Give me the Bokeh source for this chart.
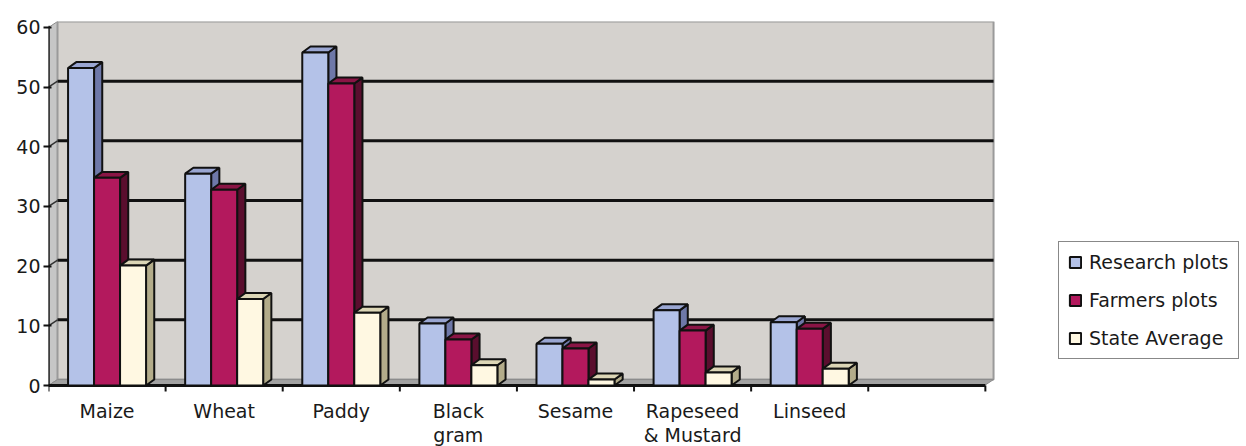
from bokeh.plotting import figure
from bokeh.models import Range1d, FixedTicker, Legend, LegendItem, ColumnDataSource
from bokeh.core.properties import value
from bokeh.embed import file_html
from bokeh.resources import INLINE

# ---- data ----
categories = ["Maize", "Wheat", "Paddy", "Black gram", "Sesame", "Rapeseed & Mustard", "Linseed"]
tick_labels = ["Maize", "Wheat", "Paddy", "Black\ngram", "Sesame", "Rapeseed\n& Mustard", "Linseed"]
series_names = ["Research plots", "Farmers plots", "State Average"]
research = [53.2, 35.5, 55.8, 10.4, 7.0, 12.6, 10.6]
farmers = [34.8, 32.8, 50.6, 7.7, 6.2, 9.2, 9.5]
state = [20.1, 14.5, 12.2, 3.4, 1.0, 2.2, 2.8]
y_ticks = [0, 10, 20, 30, 40, 50, 60]
n_slots = 8

# ---- styling / geometry ----
FONT = "DejaVu Sans"
FS = "19px"
TXT = "#1a1a1a"
front_cols = ["#B4C2E8", "#B3195D", "#FFF8E2"]
side_cols = ["#6E78A8", "#5A0E2E", "#B3AC8A"]
top_cols = ["#9AA6D2", "#8A1545", "#DCD6B6"]
bar_w = 0.222
dx, dy = 0.07, 1.0          # bar depth offsets
wdx, wdy = 0.077, 1.0       # wall depth offsets
wall_end = n_slots + 0.07
x_view_end = 10.23          # frame extends under the legend
y_top = 61.0
y_view_bottom = -10.22      # frame extends under the category labels
tick_len = 1.0              # outward tick length in value units
label_y = -2.5              # top of category labels in value units

p = figure(width=1246, height=446, output_backend="svg", toolbar_location=None,
           x_range=Range1d(0, x_view_end), y_range=Range1d(y_view_bottom, y_top),
           min_border_left=48, min_border_right=0, min_border_top=21, min_border_bottom=0)
p.background_fill_color = "white"
p.border_fill_color = "white"
p.outline_line_color = None
p.xgrid.visible = False
p.ygrid.visible = False
p.xaxis.visible = False

# walls
p.patch([0, wdx, wdx, 0], [0, wdy, y_top, y_top - wdy], fill_color="#C6C6C6", line_color="#8C8C8C", line_width=1)
p.quad(left=[wdx], right=[wall_end], bottom=[wdy], top=[y_top], fill_color="#D5D2CE",
       line_color="#9A9A9A", line_width=2)
p.patch([0, wdx, wall_end, wall_end - wdx], [0, wdy, wdy, 0], fill_color="#A2A2A2", line_color="#8C8C8C", line_width=1)

# gridlines on walls
grid_vals = [v for v in y_ticks if 0 < v < 60]
p.segment(x0=[wdx] * len(grid_vals), y0=[v + wdy for v in grid_vals],
          x1=[wall_end] * len(grid_vals), y1=[v + wdy for v in grid_vals], line_color="#111111", line_width=3)
p.segment(x0=[0] * len(grid_vals), y0=grid_vals,
          x1=[wdx] * len(grid_vals), y1=[v + wdy for v in grid_vals], line_color="#333333", line_width=1.5)

# axis lines
p.segment(x0=[0], y0=[0], x1=[n_slots], y1=[0], line_color="#111111", line_width=3)
p.segment(x0=[0], y0=[0], x1=[0], y1=[y_ticks[-1] + 0.3], line_color="#111111", line_width=2.5)
slot_edges = list(range(n_slots + 1))
p.segment(x0=slot_edges, y0=[0] * len(slot_edges), x1=slot_edges, y1=[-tick_len] * len(slot_edges),
          line_color="#111111", line_width=2)

# bars
all_series = [research, farmers, state]
front_renderers = []
for s, vals in enumerate(all_series):
    x0 = [i + 0.5 - 1.5 * bar_w + s * bar_w for i in range(len(vals))]
    x1 = [a + bar_w for a in x0]
    side_xs = [[b, b + dx, b + dx, b] for b in x1]
    side_ys = [[0, dy, v + dy, v] for v in vals]
    top_xs = [[a, a + dx, b + dx, b] for a, b in zip(x0, x1)]
    top_ys = [[v, v + dy, v + dy, v] for v in vals]
    p.patches(xs=side_xs, ys=side_ys, fill_color=side_cols[s], line_color="#111111", line_width=2)
    p.patches(xs=top_xs, ys=top_ys, fill_color=top_cols[s], line_color="#111111", line_width=2)
    src = ColumnDataSource(dict(left=x0, right=x1, top=vals, bottom=[0] * len(vals)))
    r = p.quad(left="left", right="right", top="top", bottom="bottom", source=src,
               fill_color=front_cols[s], line_color="#111111", line_width=2)
    front_renderers.append(r)

# category labels
lab_src = ColumnDataSource(dict(x=[i + 0.5 for i in range(len(tick_labels))],
                                y=[label_y] * len(tick_labels), text=tick_labels))
p.text(x="x", y="y", text="text", source=lab_src, text_font=value(FONT), text_font_size=FS,
       text_color=TXT, text_align="center", text_baseline="top", text_line_height=1.05)

# y axis
ya = p.yaxis[0]
ya.ticker = FixedTicker(ticks=y_ticks, minor_ticks=[])
ya.axis_line_color = None
ya.major_tick_out = 5
ya.major_tick_in = 3
ya.major_tick_line_width = 2
ya.major_tick_line_color = "#111111"
ya.major_label_standoff = 3
ya.major_label_text_font = FONT
ya.major_label_text_font_size = FS
ya.major_label_text_color = TXT

legend = Legend(items=[LegendItem(label=n, renderers=[r]) for n, r in zip(series_names, front_renderers)],
                location=(1010, 87))
legend.border_line_color = "#111111"
legend.border_line_width = 1.5
legend.background_fill_color = "white"
legend.background_fill_alpha = 1
legend.label_text_font = FONT
legend.label_text_font_size = FS
legend.label_text_color = TXT
legend.glyph_width = 14
legend.glyph_height = 14
legend.label_height = 20
legend.spacing = 16
legend.padding = 9
legend.margin = 0
legend.label_standoff = 7
p.add_layout(legend)

open("out.html", "w").write(file_html(p, INLINE))
